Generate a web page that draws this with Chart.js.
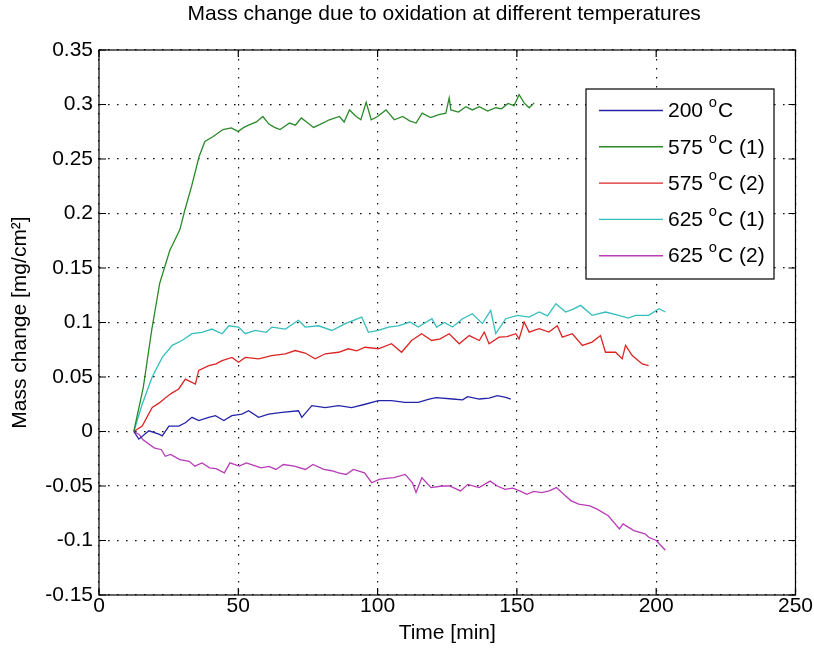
<!DOCTYPE html>
<html>
<head>
<meta charset="utf-8">
<script src="https://cdn.jsdelivr.net/npm/chart.js@4.4.1/dist/chart.umd.min.js"></script>
<style>
  html, body { margin: 0; padding: 0; background: #fff; }
  canvas { display: block; }
</style>
</head>
<body>
<canvas id="c" width="814" height="651"></canvas>
<script>
// ---------------- DATA ----------------
const chartTitle = 'Mass change due to oxidation at different temperatures';
const xTitle = 'Time [min]';
const yTitle = 'Mass change [mg/cm²]';
const seriesLabels = ['200 °C', '575 °C (1)', '575 °C (2)', '625 °C (1)', '625 °C (2)'];
const xTicks = [0, 50, 100, 150, 200, 250];
const yTicks = [-0.15, -0.1, -0.05, 0, 0.05, 0.1, 0.15, 0.2, 0.25, 0.3, 0.35];

// 200 °C
const t200 = [12.5,14.3,17.9,21.5,22.7,25.1,28.6,31,33.4,35.8,39.4,41.8,44.8,47.7,51.3,53.7,57.3,60.9,65.7,71.6,72.8,76.4,81.2,86,90.7,95.5,100.3,105,109.8,114.6,118.5,121,126.9,130.5,132.3,136.5,140,143,146,147.8];
const m200 = [0,-0.007,0.0006,-0.0024,-0.004,0.005,0.005,0.008,0.013,0.01,0.013,0.0145,0.01,0.0145,0.016,0.019,0.013,0.016,0.0175,0.019,0.013,0.0237,0.022,0.0237,0.022,0.025,0.0283,0.0283,0.0267,0.0267,0.0298,0.031,0.0298,0.029,0.032,0.0298,0.0307,0.0329,0.0313,0.0298];

// 575 °C (1)
const t575a = [12.5,15.9,18.9,21.8,25.4,29,30.8,33.2,35.9,38,41,44.5,47.5,49.9,52,54.1,56.5,58.8,61,63,65,68.4,70.5,72.6,75,77,79.2,82.7,86.3,88,89.9,92.3,94,95.9,97.7,100,103,106,109,111.5,113.8,116,119,122,124.5,125.7,126.3,129,131.7,134,136.5,139.5,142.4,144.5,146.8,149,150.8,152.6,154.4,156.2];
const m575a = [0,0.0405,0.0927,0.136,0.166,0.185,0.203,0.2247,0.252,0.266,0.2707,0.277,0.2785,0.2753,0.279,0.2815,0.284,0.289,0.282,0.279,0.277,0.283,0.281,0.2876,0.283,0.279,0.2815,0.286,0.289,0.284,0.295,0.289,0.286,0.302,0.286,0.289,0.295,0.286,0.289,0.285,0.283,0.292,0.288,0.2907,0.292,0.306,0.295,0.293,0.298,0.295,0.298,0.294,0.297,0.296,0.301,0.299,0.309,0.3015,0.297,0.3015];

// 575 °C (2)
const t575b = [12.5,15.5,19.1,21.5,23.9,26,28.6,31,34.6,35.8,39.4,42,44.2,47.7,50.1,52.5,57.3,62,66.9,70.4,74,77.6,81.2,86,89.5,92.5,95.5,100.3,105,108.6,112.2,115.8,119.4,122.5,125.7,129.3,132.9,136.5,138.3,140,143.6,146.5,149.6,150.8,152.6,154.4,158,161.5,164.5,166.3,169.9,173.5,177,180,181.8,185.4,187.8,189,191.4,195,197.3];
const m575b = [0,0.005,0.022,0.026,0.031,0.035,0.039,0.048,0.0436,0.056,0.0605,0.062,0.065,0.068,0.0635,0.068,0.0667,0.0697,0.0713,0.0743,0.072,0.0667,0.0713,0.0727,0.0759,0.074,0.0773,0.0759,0.0805,0.0727,0.0835,0.0897,0.0835,0.085,0.0897,0.0805,0.088,0.0835,0.0912,0.0805,0.0866,0.087,0.0897,0.085,0.1004,0.0912,0.0943,0.0912,0.097,0.0866,0.0897,0.079,0.082,0.088,0.0727,0.0727,0.0667,0.079,0.0697,0.062,0.0605];

// 625 °C (1)
const t625a = [12.5,15.5,19.1,22.7,26.3,29.8,33.4,37,40.5,44.2,46.6,50.1,52.5,56.1,60,62.1,66.9,71.6,74,78.8,83.6,88.4,94.3,96.7,100.3,103.9,107.4,111.6,114.6,119.5,121.2,124,126.9,130.5,134,137.6,140.6,142.4,146,150.2,154.4,158,161,164,167.5,170,172.9,177,181.8,186.6,190,192.6,197.3,201,203.3];
const m625a = [0,0.025,0.05,0.068,0.079,0.0835,0.0897,0.091,0.094,0.0897,0.097,0.0958,0.0897,0.0927,0.091,0.0958,0.094,0.102,0.0958,0.097,0.0927,0.099,0.105,0.091,0.0927,0.0958,0.097,0.1004,0.0958,0.1035,0.0958,0.1,0.0958,0.1035,0.108,0.099,0.111,0.0897,0.1035,0.1066,0.105,0.1096,0.106,0.1173,0.1096,0.112,0.1157,0.1066,0.1096,0.1066,0.104,0.1066,0.1066,0.1127,0.1096];

// 625 °C (2)
const t625b = [12.5,14.5,15.8,19.8,22.4,23.8,25.7,29,32.4,34.4,37,39.7,42,45,47,50.3,52.9,55.5,58.2,61,63.5,66.2,70.1,74.1,76.8,80.7,83.5,86,88.7,91.3,95.3,97.9,100.6,103,105.9,109.9,112.5,113.8,115.9,119.2,123.2,125.8,129.8,132.4,136.4,140.4,143,145.7,148.5,151,153.6,156,158.9,161.6,164.2,167,169.5,172.2,176.2,178.8,182.8,186.8,188.1,192,196,197.3,200,203.3];
const m625b = [0,-0.003,-0.0076,-0.015,-0.0167,-0.0227,-0.021,-0.0258,-0.0273,-0.0318,-0.0288,-0.0333,-0.034,-0.0379,-0.0288,-0.0318,-0.0288,-0.031,-0.0333,-0.032,-0.0348,-0.0303,-0.0318,-0.0348,-0.0303,-0.0348,-0.036,-0.0379,-0.0394,-0.0348,-0.0379,-0.047,-0.0439,-0.043,-0.0424,-0.0394,-0.047,-0.056,-0.0424,-0.0515,-0.05,-0.05,-0.0545,-0.0485,-0.0515,-0.0455,-0.05,-0.053,-0.052,-0.0545,-0.0576,-0.055,-0.056,-0.0545,-0.0515,-0.058,-0.0636,-0.0667,-0.0682,-0.0712,-0.0773,-0.0894,-0.0848,-0.0909,-0.0939,-0.097,-0.1,-0.109];

const seriesX = [t200, t575a, t575b, t625a, t625b];
const seriesY = [m200, m575a, m575b, m625a, m625b];
const seriesColors = ['#2424a8', '#2a8a2a', '#dd2424', '#36bebe', '#b83cb8'];

// ---------------- FONT PICK ----------------
function hasFont(name) {
  const c = document.createElement('canvas').getContext('2d');
  const s = 'Mass change 0123456789 [min]';
  c.font = '40px monospace';
  const w1 = c.measureText(s).width;
  c.font = '40px "' + name + '", monospace';
  const w2 = c.measureText(s).width;
  return Math.abs(w1 - w2) > 0.5;
}
let FAMILY, FS;
if (hasFont('Liberation Sans Narrow')) { FAMILY = '"Liberation Sans Narrow", "Liberation Sans", Arial, sans-serif'; FS = 25; }
else { FAMILY = '"Liberation Sans", Arial, sans-serif'; FS = 21; }
const font = { family: FAMILY, size: FS, weight: 'normal', lineHeight: 1 };

// ---------------- FRAME + TITLE + LEGEND PLUGIN ----------------
const matlabFrame = {
  id: 'matlabFrame',
  afterDraw(chart) {
    const { ctx, chartArea: a, scales } = chart;
    const xs = scales.x, ys = scales.y;
    ctx.save();
    ctx.strokeStyle = '#000';
    ctx.lineWidth = 1.2;
    ctx.strokeRect(a.left, a.top, a.right - a.left, a.bottom - a.top);
    const tl = 7;
    ctx.beginPath();
    xTicks.forEach(v => {
      const p = xs.getPixelForValue(v);
      ctx.moveTo(p, a.bottom); ctx.lineTo(p, a.bottom - tl);
      ctx.moveTo(p, a.top); ctx.lineTo(p, a.top + tl);
    });
    yTicks.forEach(v => {
      const p = ys.getPixelForValue(v);
      ctx.moveTo(a.left, p); ctx.lineTo(a.left + tl, p);
      ctx.moveTo(a.right, p); ctx.lineTo(a.right - tl, p);
    });
    ctx.stroke();

    // title centred over the axes
    ctx.fillStyle = '#000';
    ctx.font = FS + 'px ' + FAMILY;
    ctx.textAlign = 'center';
    ctx.textBaseline = 'middle';
    ctx.fillText(chartTitle, (a.left + a.right) / 2 - 3, 14);

    // legend box (inside plot, top right)
    const bx = 586, by = 89, bw = 188, bh = 190;
    ctx.fillStyle = '#fff';
    ctx.fillRect(bx, by, bw, bh);
    ctx.lineWidth = 1.2;
    ctx.strokeStyle = '#000';
    ctx.strokeRect(bx, by, bw, bh);
    const first = 110.5, step = 36.3;
    ctx.textBaseline = 'middle';
    ctx.textAlign = 'left';
    chart.data.datasets.forEach((ds, i) => {
      const yy = first + i * step;
      ctx.strokeStyle = ds.borderColor;
      ctx.lineWidth = 1.4;
      ctx.beginPath(); ctx.moveTo(599, yy); ctx.lineTo(663, yy); ctx.stroke();
      const parts = ds.label.split('°');
      let tx = 668;
      ctx.fillStyle = '#000';
      ctx.font = FS + 'px ' + FAMILY;
      ctx.fillText(parts[0], tx, yy + 1);
      tx += ctx.measureText(parts[0]).width;
      if (parts.length > 1) {
        const sfs = FS * 0.7;
        ctx.font = sfs + 'px ' + FAMILY;
        ctx.fillText('o', tx, yy - FS * 0.36);
        tx += ctx.measureText('o').width + 1;
        ctx.font = FS + 'px ' + FAMILY;
        ctx.fillText(parts[1], tx, yy + 1);
      }
    });
    ctx.restore();
  }
};

// ---------------- CHART ----------------
const datasets = seriesLabels.map((lab, i) => ({
  label: lab,
  data: seriesX[i].map((t, k) => ({ x: t, y: seriesY[i][k] })).slice(0, Math.min(seriesX[i].length, seriesY[i].length)),
  borderColor: seriesColors[i],
  backgroundColor: seriesColors[i],
  borderWidth: 1.3,
  pointRadius: 0,
  tension: 0,
  fill: false
}));

new Chart(document.getElementById('c'), {
  type: 'line',
  data: { datasets },
  plugins: [matlabFrame],
  options: {
    responsive: false,
    animation: false,
    devicePixelRatio: 1,
    layout: { padding: { left: 0, right: 17, top: 50, bottom: 0 } },
    plugins: {
      legend: { display: false },
      tooltip: { enabled: false },
      title: { display: false }
    },
    scales: {
      x: {
        type: 'linear',
        min: 0, max: 250,
        afterBuildTicks: s => { s.ticks = xTicks.map(v => ({ value: v })); },
        afterFit: s => { s.height = 56; },
        ticks: { color: '#000', font: font, padding: 1, maxRotation: 0, callback: v => String(v) },
        grid: { color: '#111', lineWidth: 1.2, drawTicks: false },
        border: { display: false, dash: [1.6, 7.4] },
        title: { display: true, text: xTitle, color: '#000', font: font, padding: { top: 0, bottom: 18 - FS / 2 } }
      },
      y: {
        type: 'linear',
        min: -0.15, max: 0.35,
        afterBuildTicks: s => { s.ticks = yTicks.map(v => ({ value: v })); },
        afterFit: s => { s.width = 99; },
        ticks: { color: '#000', font: font, padding: 6, callback: v => String(parseFloat(Number(v).toFixed(2))) },
        grid: { color: '#111', lineWidth: 1.2, drawTicks: false },
        border: { display: false, dash: [1.6, 7.4] },
        title: { display: true, text: yTitle, color: '#000', font: font, padding: { top: 20 - FS / 2, bottom: 0 } }
      }
    }
  }
});
</script>
</body>
</html>
